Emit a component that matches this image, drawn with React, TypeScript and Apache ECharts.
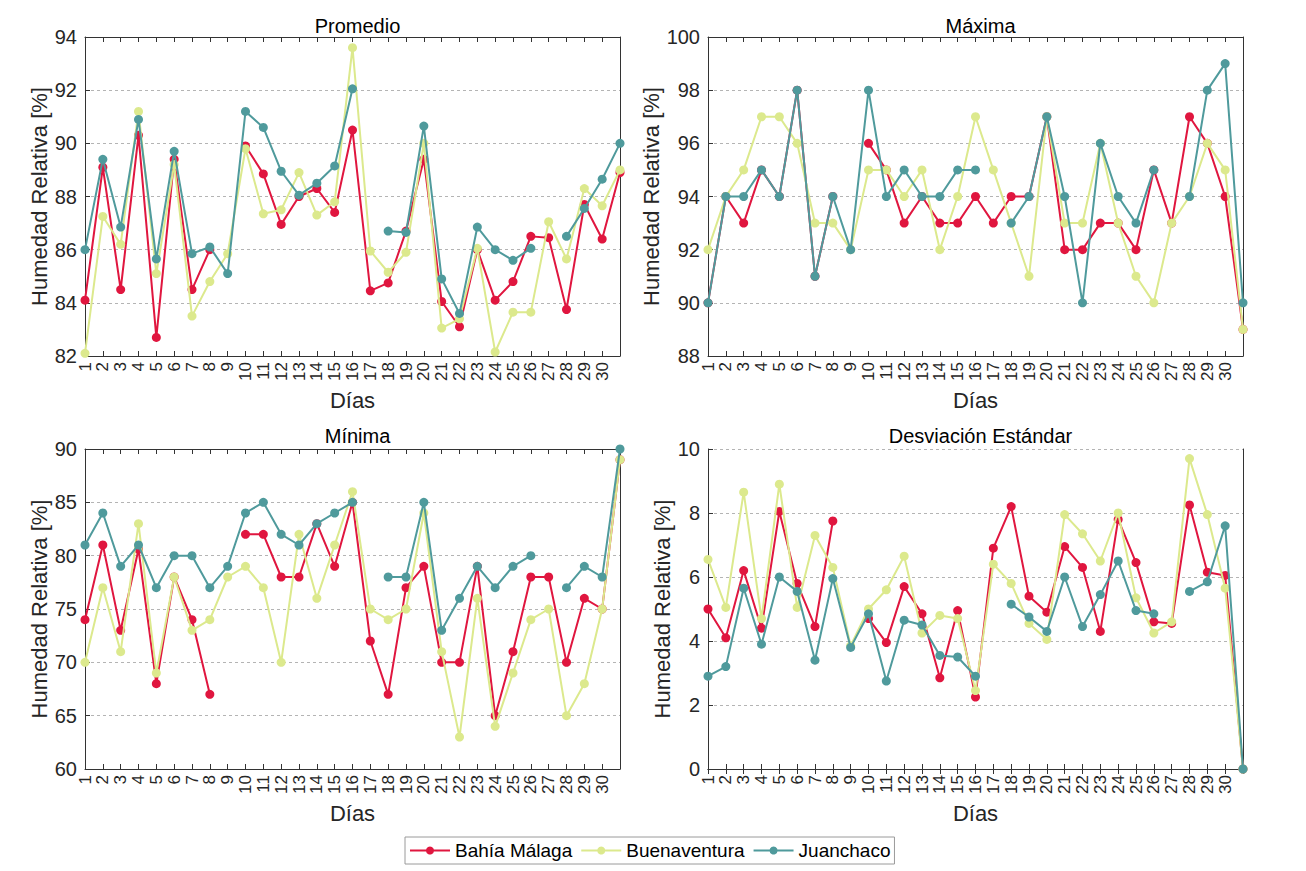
import React, { useEffect, useRef } from "react";
import * as echarts from "echarts";

const days = ["1","2","3","4","5","6","7","8","9","10","11","12","13","14","15","16","17","18","19","20","21","22","23","24","25","26","27","28","29","30","31"];
const stationNames = ["Bahía Málaga", "Buenaventura", "Juanchaco"];
const stationColors = ["#E0163F", "#DCE98D", "#4F9A9C"];
const panelTitles = ["Promedio", "Máxima", "Mínima", "Desviación Estándar"];
const yMins = [82, 88, 60, 0];
const yMaxs = [94, 100, 90, 10];
const yIntervals = [2, 2, 5, 2];

const promBahia = [84.1, 89.1, 84.5, 90.3, 82.7, 89.4, 84.5, 86.0, null, 89.9, 88.85, 86.95, 88.0, 88.3, 87.4, 90.5, 84.45, 84.75, 86.7, 89.4, 84.05, 83.1, 86.0, 84.1, 84.8, 86.5, 86.45, 83.75, 87.7, 86.4, 88.9];
const promBuena = [82.1, 87.25, 86.2, 91.2, 85.1, 89.2, 83.5, 84.8, 85.85, 89.8, 87.35, 87.5, 88.9, 87.3, 87.8, 93.6, 85.95, 85.15, 85.9, 90.0, 83.05, 83.4, 86.05, 82.15, 83.65, 83.65, 87.05, 85.65, 88.3, 87.65, 89.0];
const promJuan = [86.0, 89.4, 86.85, 90.9, 85.65, 89.7, 85.85, 86.1, 85.1, 91.2, 90.6, 88.95, 88.05, 88.5, 89.15, 92.05, null, 86.7, 86.65, 90.65, 84.9, 83.6, 86.85, 86.0, 85.6, 86.05, null, 86.5, 87.55, 88.65, 90.0];

const maxBahia = [90, 94, 93, 95, 94, 98, 91, 94, null, 96, 95, 93, 94, 93, 93, 94, 93, 94, 94, 97, 92, 92, 93, 93, 92, 95, 93, 97, 96, 94, 89];
const maxBuena = [92, 94, 95, 97, 97, 96, 93, 93, 92, 95, 95, 94, 95, 92, 94, 97, 95, 93, 91, 97, 93, 93, 96, 93, 91, 90, 93, 94, 96, 95, 89];
const maxJuan = [90, 94, 94, 95, 94, 98, 91, 94, 92, 98, 94, 95, 94, 94, 95, 95, null, 93, 94, 97, 94, 90, 96, 94, 93, 95, null, 94, 98, 99, 90];

const minBahia = [74, 81, 73, 80.6, 68, 78, 74, 67, null, 82, 82, 78, 78, 83, 79, 85, 72, 67, 77, 79, 70, 70, 79, 65, 71, 78, 78, 70, 76, 75, 89];
const minBuena = [70, 77, 71, 83, 69, 78, 73, 74, 78, 79, 77, 70, 82, 76, 81, 86, 75, 74, 75, 84, 71, 63, 76, 64, 69, 74, 75, 65, 68, 75, 89];
const minJuan = [81, 84, 79, 81, 77, 80, 80, 77, 79, 84, 85, 82, 81, 83, 84, 85, null, 78, 78, 85, 73, 76, 79, 77, 79, 80, null, 77, 79, 78, 90];

const sdBahia = [5.0, 4.1, 6.2, 4.4, 8.05, 5.8, 4.45, 7.75, null, 4.7, 3.95, 5.7, 4.85, 2.85, 4.95, 2.25, 6.9, 8.2, 5.4, 4.9, 6.95, 6.3, 4.3, 7.8, 6.45, 4.6, 4.55, 8.25, 6.15, 6.05, 0];
const sdBuena = [6.55, 5.05, 8.65, 4.7, 8.9, 5.05, 7.3, 6.3, 3.85, 5.0, 5.6, 6.65, 4.25, 4.8, 4.7, 2.45, 6.4, 5.8, 4.55, 4.05, 7.95, 7.35, 6.5, 8.0, 5.35, 4.25, 4.6, 9.7, 7.95, 5.65, 0];
const sdJuan = [2.9, 3.2, 5.65, 3.9, 6.0, 5.55, 3.4, 5.95, 3.8, 4.85, 2.75, 4.65, 4.5, 3.55, 3.5, 2.9, null, 5.15, 4.75, 4.3, 6.0, 4.45, 5.45, 6.5, 4.95, 4.85, null, 5.55, 5.85, 7.6, 0];

const panelData = [
  [promBahia, promBuena, promJuan],
  [maxBahia, maxBuena, maxJuan],
  [minBahia, minBuena, minJuan],
  [sdBahia, sdBuena, sdJuan],
];

const FONT = "'Liberation Sans', Arial, Helvetica, sans-serif";
const AXIS_COLOR = "#333333";
const TEXT_COLOR = "#262626";

export default function App() {
  const ref = useRef<HTMLDivElement>(null);
  useEffect(() => {
    if (!ref.current) return;
    const chart = echarts.init(ref.current, null, { renderer: "svg" });

    const grids = [
      { left: 85, top: 37, width: 535, height: 319 },
      { left: 708, top: 37, width: 535, height: 319 },
      { left: 85, top: 449, width: 535, height: 320 },
      { left: 708, top: 449, width: 535, height: 320 },
    ];
    const yNameGaps = [34, 44, 34, 34];
    const titleTops = [11, 11, 421, 421];

    const xAxes: any[] = [];
    const yAxes: any[] = [];
    grids.forEach((g, i) => {
      xAxes.push({
        type: "category",
        gridIndex: i,
        data: days,
        boundaryGap: false,
        position: "bottom",
        name: "Días",
        nameLocation: "middle",
        nameGap: 33,
        nameTextStyle: { fontSize: 22, color: TEXT_COLOR, fontFamily: FONT },
        axisLine: { show: true, lineStyle: { color: AXIS_COLOR, width: 1 } },
        axisTick: { show: true, inside: true, length: 5, interval: 0, lineStyle: { color: AXIS_COLOR } },
        axisLabel: {
          show: true,
          interval: 0,
          rotate: 90,
          margin: 6,
          fontSize: 17,
          color: TEXT_COLOR,
          fontFamily: FONT,
          formatter: (v: string) => (v === "31" ? "" : v),
        },
        splitLine: { show: false },
      });
    });
    grids.forEach((g, i) => {
      xAxes.push({
        type: "category",
        gridIndex: i,
        data: days,
        boundaryGap: false,
        position: "top",
        axisLine: { show: true, lineStyle: { color: AXIS_COLOR, width: 1 } },
        axisTick: { show: true, inside: true, length: 5, interval: 0, lineStyle: { color: AXIS_COLOR } },
        axisLabel: { show: false },
        splitLine: { show: false },
      });
    });
    grids.forEach((g, i) => {
      yAxes.push({
        type: "value",
        gridIndex: i,
        min: yMins[i],
        max: yMaxs[i],
        interval: yIntervals[i],
        position: "left",
        name: "Humedad Relativa [%]",
        nameLocation: "middle",
        nameGap: yNameGaps[i],
        nameTextStyle: { fontSize: 22, color: TEXT_COLOR, fontFamily: FONT },
        axisLine: { show: true, lineStyle: { color: AXIS_COLOR, width: 1 } },
        axisTick: { show: true, inside: true, length: 5, lineStyle: { color: AXIS_COLOR } },
        axisLabel: { fontSize: 20, color: TEXT_COLOR, fontFamily: FONT, margin: 8 },
        splitLine: { show: true, lineStyle: { type: [3, 3], color: "#b4b4b4", width: 1 } },
      });
    });
    grids.forEach((g, i) => {
      yAxes.push({
        type: "value",
        gridIndex: i,
        min: yMins[i],
        max: yMaxs[i],
        interval: yIntervals[i],
        position: "right",
        axisLine: { show: true, lineStyle: { color: AXIS_COLOR, width: 1 } },
        axisTick: { show: false },
        axisLabel: { show: false },
        splitLine: { show: false },
      });
    });

    const series: any[] = [];
    panelData.forEach((arrs, p) => {
      arrs.forEach((vals, s) => {
        series.push({
          type: "line",
          name: stationNames[s],
          xAxisIndex: p,
          yAxisIndex: p,
          data: vals,
          symbol: "circle",
          symbolSize: 9,
          showSymbol: true,
          clip: false,
          connectNulls: false,
          lineStyle: { color: stationColors[s], width: 2 },
          itemStyle: { color: stationColors[s] },
          z: 2 + s,
        });
      });
    });

    const titles = grids.map((g, i) => ({
      text: panelTitles[i],
      left: g.left + g.width / 2,
      top: titleTops[i],
      textAlign: "center",
      textStyle: { fontSize: 20, fontWeight: "normal", color: "#000", fontFamily: FONT },
    }));

    chart.setOption({
      animation: false,
      backgroundColor: "#ffffff",
      title: titles,
      grid: grids.map((g) => ({ ...g, containLabel: false })),
      xAxis: xAxes,
      yAxis: yAxes,
      legend: {
        data: stationNames,
        left: 405,
        top: 837,
        orient: "horizontal",
        itemWidth: 40,
        itemHeight: 10,
        itemGap: 8,
        padding: [4, 4],
        borderColor: "#9a9a9a",
        borderWidth: 1,
        backgroundColor: "#fff",
        textStyle: { fontSize: 19, color: "#000", fontFamily: FONT },
      },
      series,
    });

    return () => chart.dispose();
  }, []);

  return (
    <div
      ref={ref}
      style={{ position: "absolute", left: 0, top: 0, width: 1306, height: 871, background: "#fff" }}
    />
  );
}
